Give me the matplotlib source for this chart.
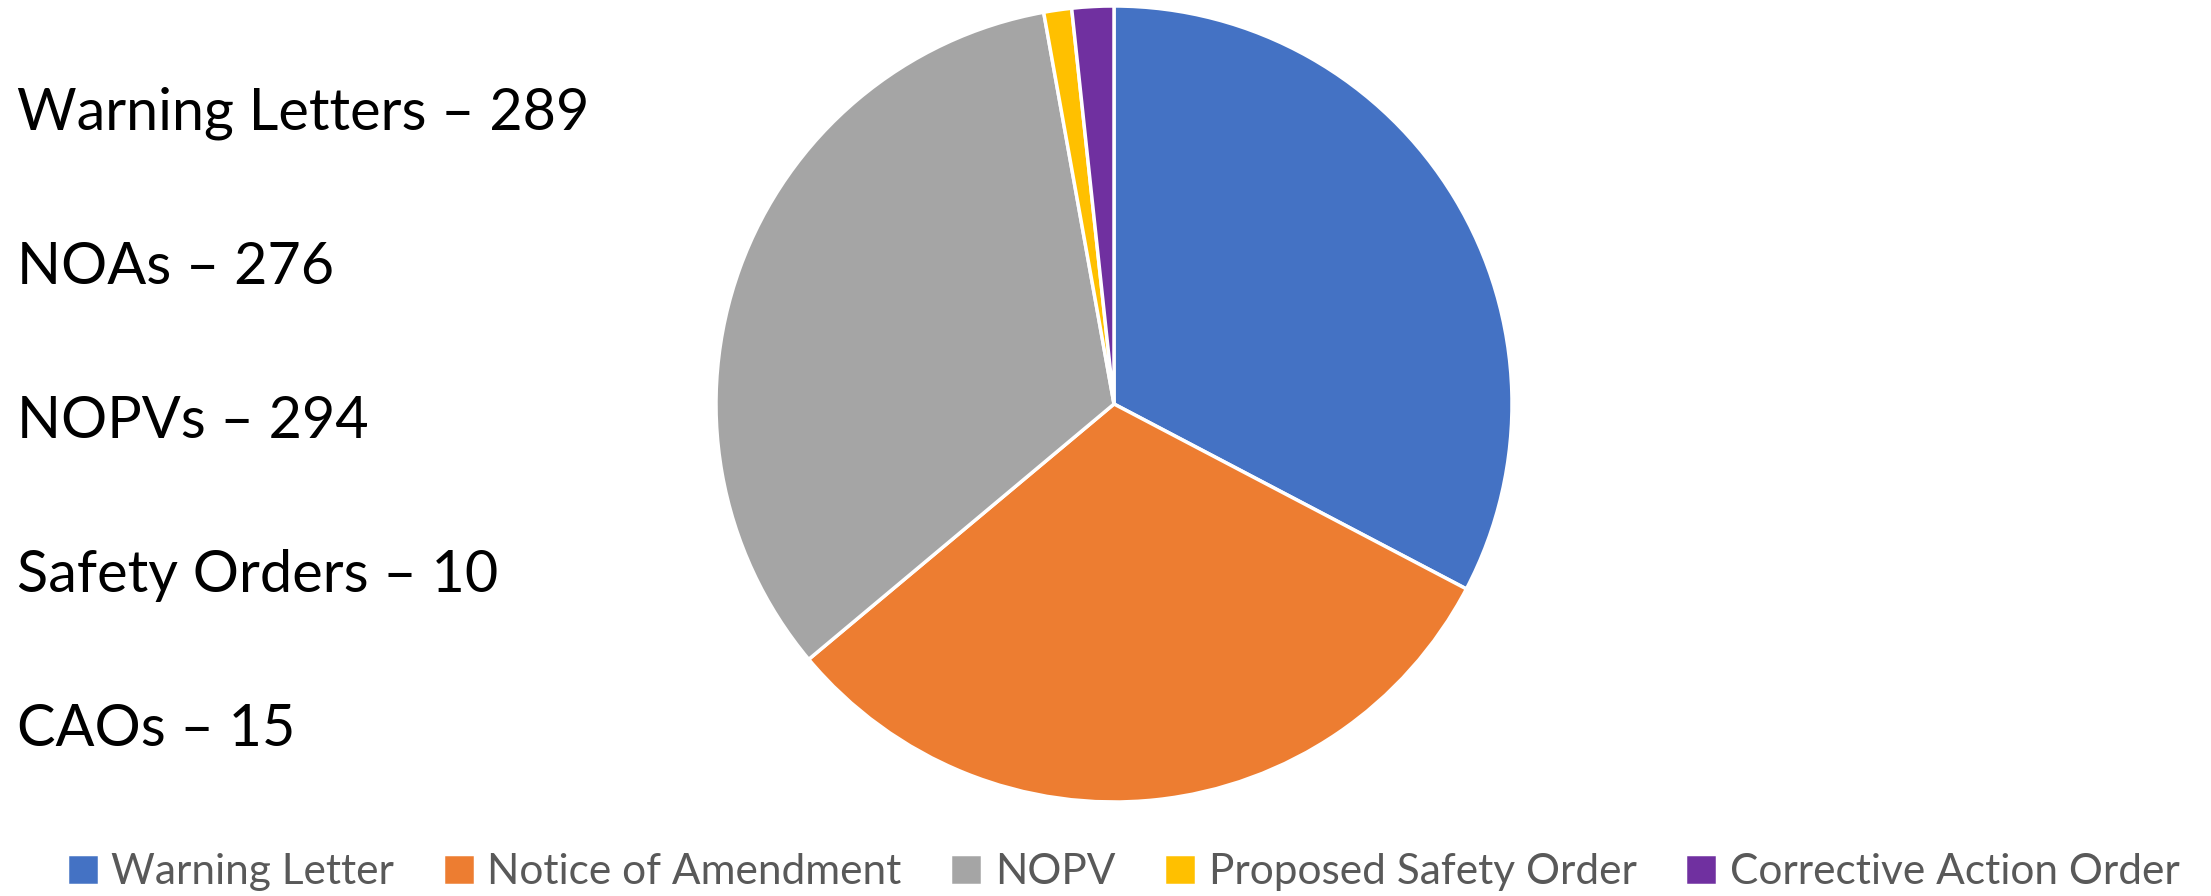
import matplotlib.pyplot as plt

plt.rcParams['font.family'] = ['Lato', 'DejaVu Sans']

# Enforcement actions by type
categories = ["Warning Letter", "Notice of Amendment", "NOPV",
              "Proposed Safety Order", "Corrective Action Order"]
counts = [289, 276, 294, 10, 15]
colors = ["#4472C4", "#ED7D31", "#A5A5A5", "#FFC000", "#7030A0"]

side_labels = ["Warning Letters", "NOAs", "NOPVs", "Safety Orders", "CAOs"]
side_counts = [289, 276, 294, 10, 15]

W, H = 2211, 896
fig = plt.figure(figsize=(W / 100, H / 100), dpi=100)

cx, cy, r = 1114, 404, 398
ax = fig.add_axes([(cx - r) / W, (H - cy - r) / H, 2 * r / W, 2 * r / H])
wedges, _ = ax.pie(counts, colors=colors, startangle=90, counterclock=False,
                   radius=1, wedgeprops=dict(edgecolor="white", linewidth=2.5))
ax.set_xlim(-1.0, 1.0)
ax.set_ylim(-1.0, 1.0)
ax.set_aspect("equal")

# summary text down the left side
y0, dy = 113, 154
for i, (name, n) in enumerate(zip(side_labels, side_counts)):
    fig.text(17 / W, 1 - (y0 + i * dy) / H, f"{name} \u2013 {n}",
             fontsize=41.5, color="black", ha="left", va="center")

fig.legend(wedges, categories, loc="center", bbox_to_anchor=(0.508, 1 - 872 / H),
           ncol=5, frameon=False, fontsize=30.5, labelcolor="#595959",
           handlelength=0.75, handleheight=0.75, handletextpad=0.3,
           columnspacing=1.15, borderaxespad=0)

fig.savefig("out.png", dpi=100, facecolor="white")
